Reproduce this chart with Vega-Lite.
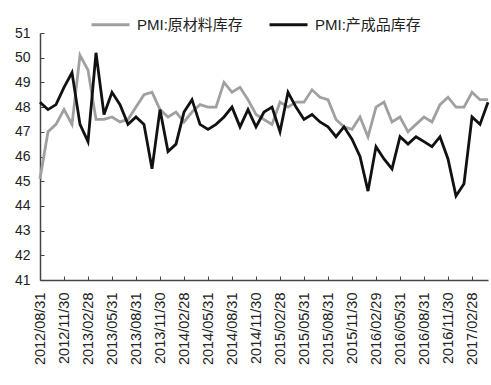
{
  "$schema": "https://vega.github.io/schema/vega-lite/v6.json",
  "width": 448,
  "height": 247,
  "autosize": {"type": "none"},
  "padding": {"left": 40, "top": 33, "right": 3, "bottom": 105},
  "background": "white",
  "config": {
    "view": {"stroke": null},
    "font": "Liberation Sans, Noto Sans CJK SC",
    "axis": {"labelFont": "Liberation Sans"},
    "legend": {"labelFont": "Liberation Sans, Noto Sans CJK SC"}
  },
  "data": {
    "values": [
      {"d":"2012/08/31","s":"PMI:原材料库存","v":45.1},
      {"d":"2012/09/30","s":"PMI:原材料库存","v":47.0},
      {"d":"2012/10/31","s":"PMI:原材料库存","v":47.3},
      {"d":"2012/11/30","s":"PMI:原材料库存","v":47.9},
      {"d":"2012/12/31","s":"PMI:原材料库存","v":47.3},
      {"d":"2013/01/31","s":"PMI:原材料库存","v":50.1},
      {"d":"2013/02/28","s":"PMI:原材料库存","v":49.5},
      {"d":"2013/03/31","s":"PMI:原材料库存","v":47.5},
      {"d":"2013/04/30","s":"PMI:原材料库存","v":47.5},
      {"d":"2013/05/31","s":"PMI:原材料库存","v":47.6},
      {"d":"2013/06/30","s":"PMI:原材料库存","v":47.4},
      {"d":"2013/07/31","s":"PMI:原材料库存","v":47.5},
      {"d":"2013/08/31","s":"PMI:原材料库存","v":48.0},
      {"d":"2013/09/30","s":"PMI:原材料库存","v":48.5},
      {"d":"2013/10/31","s":"PMI:原材料库存","v":48.6},
      {"d":"2013/11/30","s":"PMI:原材料库存","v":47.9},
      {"d":"2013/12/31","s":"PMI:原材料库存","v":47.6},
      {"d":"2014/01/31","s":"PMI:原材料库存","v":47.8},
      {"d":"2014/02/28","s":"PMI:原材料库存","v":47.4},
      {"d":"2014/03/31","s":"PMI:原材料库存","v":47.8},
      {"d":"2014/04/30","s":"PMI:原材料库存","v":48.1},
      {"d":"2014/05/31","s":"PMI:原材料库存","v":48.0},
      {"d":"2014/06/30","s":"PMI:原材料库存","v":48.0},
      {"d":"2014/07/31","s":"PMI:原材料库存","v":49.0},
      {"d":"2014/08/31","s":"PMI:原材料库存","v":48.6},
      {"d":"2014/09/30","s":"PMI:原材料库存","v":48.8},
      {"d":"2014/10/31","s":"PMI:原材料库存","v":48.3},
      {"d":"2014/11/30","s":"PMI:原材料库存","v":47.7},
      {"d":"2014/12/31","s":"PMI:原材料库存","v":47.5},
      {"d":"2015/01/31","s":"PMI:原材料库存","v":47.3},
      {"d":"2015/02/28","s":"PMI:原材料库存","v":48.2},
      {"d":"2015/03/31","s":"PMI:原材料库存","v":48.0},
      {"d":"2015/04/30","s":"PMI:原材料库存","v":48.2},
      {"d":"2015/05/31","s":"PMI:原材料库存","v":48.2},
      {"d":"2015/06/30","s":"PMI:原材料库存","v":48.7},
      {"d":"2015/07/31","s":"PMI:原材料库存","v":48.4},
      {"d":"2015/08/31","s":"PMI:原材料库存","v":48.3},
      {"d":"2015/09/30","s":"PMI:原材料库存","v":47.5},
      {"d":"2015/10/31","s":"PMI:原材料库存","v":47.2},
      {"d":"2015/11/30","s":"PMI:原材料库存","v":47.1},
      {"d":"2015/12/31","s":"PMI:原材料库存","v":47.6},
      {"d":"2016/01/31","s":"PMI:原材料库存","v":46.8},
      {"d":"2016/02/29","s":"PMI:原材料库存","v":48.0},
      {"d":"2016/03/31","s":"PMI:原材料库存","v":48.2},
      {"d":"2016/04/30","s":"PMI:原材料库存","v":47.4},
      {"d":"2016/05/31","s":"PMI:原材料库存","v":47.6},
      {"d":"2016/06/30","s":"PMI:原材料库存","v":47.0},
      {"d":"2016/07/31","s":"PMI:原材料库存","v":47.3},
      {"d":"2016/08/31","s":"PMI:原材料库存","v":47.6},
      {"d":"2016/09/30","s":"PMI:原材料库存","v":47.4},
      {"d":"2016/10/31","s":"PMI:原材料库存","v":48.1},
      {"d":"2016/11/30","s":"PMI:原材料库存","v":48.4},
      {"d":"2016/12/31","s":"PMI:原材料库存","v":48.0},
      {"d":"2017/01/31","s":"PMI:原材料库存","v":48.0},
      {"d":"2017/02/28","s":"PMI:原材料库存","v":48.6},
      {"d":"2017/03/31","s":"PMI:原材料库存","v":48.3},
      {"d":"2017/04/30","s":"PMI:原材料库存","v":48.3},
      {"d":"2012/08/31","s":"PMI:产成品库存","v":48.2},
      {"d":"2012/09/30","s":"PMI:产成品库存","v":47.9},
      {"d":"2012/10/31","s":"PMI:产成品库存","v":48.1},
      {"d":"2012/11/30","s":"PMI:产成品库存","v":48.8},
      {"d":"2012/12/31","s":"PMI:产成品库存","v":49.4},
      {"d":"2013/01/31","s":"PMI:产成品库存","v":47.3},
      {"d":"2013/02/28","s":"PMI:产成品库存","v":46.6},
      {"d":"2013/03/31","s":"PMI:产成品库存","v":50.2},
      {"d":"2013/04/30","s":"PMI:产成品库存","v":47.7},
      {"d":"2013/05/31","s":"PMI:产成品库存","v":48.6},
      {"d":"2013/06/30","s":"PMI:产成品库存","v":48.1},
      {"d":"2013/07/31","s":"PMI:产成品库存","v":47.3},
      {"d":"2013/08/31","s":"PMI:产成品库存","v":47.6},
      {"d":"2013/09/30","s":"PMI:产成品库存","v":47.3},
      {"d":"2013/10/31","s":"PMI:产成品库存","v":45.5},
      {"d":"2013/11/30","s":"PMI:产成品库存","v":47.9},
      {"d":"2013/12/31","s":"PMI:产成品库存","v":46.2},
      {"d":"2014/01/31","s":"PMI:产成品库存","v":46.5},
      {"d":"2014/02/28","s":"PMI:产成品库存","v":47.8},
      {"d":"2014/03/31","s":"PMI:产成品库存","v":48.3},
      {"d":"2014/04/30","s":"PMI:产成品库存","v":47.3},
      {"d":"2014/05/31","s":"PMI:产成品库存","v":47.1},
      {"d":"2014/06/30","s":"PMI:产成品库存","v":47.3},
      {"d":"2014/07/31","s":"PMI:产成品库存","v":47.6},
      {"d":"2014/08/31","s":"PMI:产成品库存","v":48.0},
      {"d":"2014/09/30","s":"PMI:产成品库存","v":47.2},
      {"d":"2014/10/31","s":"PMI:产成品库存","v":47.9},
      {"d":"2014/11/30","s":"PMI:产成品库存","v":47.2},
      {"d":"2014/12/31","s":"PMI:产成品库存","v":47.8},
      {"d":"2015/01/31","s":"PMI:产成品库存","v":48.0},
      {"d":"2015/02/28","s":"PMI:产成品库存","v":47.0},
      {"d":"2015/03/31","s":"PMI:产成品库存","v":48.6},
      {"d":"2015/04/30","s":"PMI:产成品库存","v":48.0},
      {"d":"2015/05/31","s":"PMI:产成品库存","v":47.5},
      {"d":"2015/06/30","s":"PMI:产成品库存","v":47.7},
      {"d":"2015/07/31","s":"PMI:产成品库存","v":47.4},
      {"d":"2015/08/31","s":"PMI:产成品库存","v":47.2},
      {"d":"2015/09/30","s":"PMI:产成品库存","v":46.8},
      {"d":"2015/10/31","s":"PMI:产成品库存","v":47.2},
      {"d":"2015/11/30","s":"PMI:产成品库存","v":46.7},
      {"d":"2015/12/31","s":"PMI:产成品库存","v":46.0},
      {"d":"2016/01/31","s":"PMI:产成品库存","v":44.6},
      {"d":"2016/02/29","s":"PMI:产成品库存","v":46.4},
      {"d":"2016/03/31","s":"PMI:产成品库存","v":45.9},
      {"d":"2016/04/30","s":"PMI:产成品库存","v":45.5},
      {"d":"2016/05/31","s":"PMI:产成品库存","v":46.8},
      {"d":"2016/06/30","s":"PMI:产成品库存","v":46.5},
      {"d":"2016/07/31","s":"PMI:产成品库存","v":46.8},
      {"d":"2016/08/31","s":"PMI:产成品库存","v":46.6},
      {"d":"2016/09/30","s":"PMI:产成品库存","v":46.4},
      {"d":"2016/10/31","s":"PMI:产成品库存","v":46.8},
      {"d":"2016/11/30","s":"PMI:产成品库存","v":45.9},
      {"d":"2016/12/31","s":"PMI:产成品库存","v":44.4},
      {"d":"2017/01/31","s":"PMI:产成品库存","v":44.9},
      {"d":"2017/02/28","s":"PMI:产成品库存","v":47.6},
      {"d":"2017/03/31","s":"PMI:产成品库存","v":47.3},
      {"d":"2017/04/30","s":"PMI:产成品库存","v":48.2}
    ]
  },
  "mark": {"type": "line", "strokeWidth": 2.8, "strokeJoin": "miter"},
  "encoding": {
    "x": {
      "field": "d",
      "type": "ordinal",
      "sort": null,
      "scale": {"type": "point", "padding": 0},
      "axis": {
        "title": null,
        "values": ["2012/08/31","2012/11/30","2013/02/28","2013/05/31","2013/08/31","2013/11/30","2014/02/28","2014/05/31","2014/08/31","2014/11/30","2015/02/28","2015/05/31","2015/08/31","2015/11/30","2016/02/29","2016/05/31","2016/08/31","2016/11/30","2017/02/28"],
        "labelAngle": -90,
        "labelFontSize": 14.5,
        "labelColor": "#222222",
        "labelPadding": 16,
        "tickSize": -4,
        "tickColor": "#444444",
        "tickWidth": 1,
        "domainColor": "#444444",
        "domainWidth": 1.5,
        "grid": false
      }
    },
    "y": {
      "field": "v",
      "type": "quantitative",
      "scale": {"domain": [41, 51], "nice": false, "zero": false},
      "axis": {
        "title": null,
        "values": [41,42,43,44,45,46,47,48,49,50,51],
        "labelFontSize": 14,
        "labelColor": "#222222",
        "labelPadding": 14,
        "tickSize": -4,
        "tickColor": "#444444",
        "tickWidth": 1,
        "domainColor": "#444444",
        "domainWidth": 1.5,
        "grid": false
      }
    },
    "color": {
      "field": "s",
      "type": "nominal",
      "scale": {"domain": ["PMI:原材料库存", "PMI:产成品库存"], "range": ["#a0a0a0", "#111111"]},
      "legend": {
        "title": null,
        "orient": "none",
        "direction": "horizontal",
        "legendX": 50,
        "legendY": -29,
        "symbolType": "stroke",
        "symbolSize": 1444,
        "symbolStrokeWidth": 2.8,
        "labelFontSize": 15,
        "labelColor": "#222222",
        "labelOffset": 6,
        "columnPadding": 20
      }
    }
  }
}
